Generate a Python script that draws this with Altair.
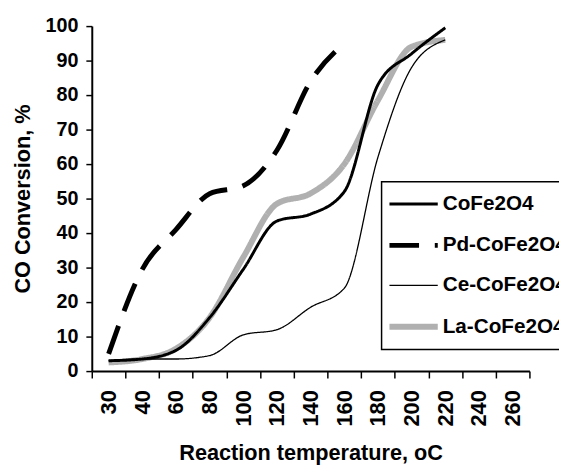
import altair as alt
import pandas as pd

categories = ["30", "40", "60", "80", "100", "120", "140", "160", "180", "200", "220", "240", "260"]
series_names = ["CoFe2O4", "Pd-CoFe2O4", "Ce-CoFe2O4", "La-CoFe2O4"]

cofe = [3, 3.5, 6, 15.5, 29.5, 43.5, 45.5, 52, 83, 92, 99.5]
pd_cofe = [5, 29.5, 41, 51.4, 53.7, 64, 84, 95]
ce_cofe = [3, 3.5, 3.5, 4.5, 10.5, 12, 18.5, 24, 62, 88, 96]
la_cofe = [2.5, 3.5, 6.5, 15.5, 33, 48.5, 51.5, 60, 78.5, 94, 96]

series_values = [cofe, pd_cofe, ce_cofe, la_cofe]
line_colors = ["#000000", "#000000", "#000000", "#b0b0b0"]
line_dashes = [[1, 0], [30, 16], [1, 0], [1, 0]]
line_widths = [3, 5, 1.3, 6]

rows = []
for name, vals in zip(series_names, series_values):
    for c, v in zip(categories, vals):
        rows.append({"T": c, "conv": v, "series": name})
df = pd.DataFrame(rows)

FONT = "Liberation Sans"

x_enc = alt.X(
    "T:N",
    sort=categories,
    bandPosition=0.5,
    scale=alt.Scale(type="band", domain=categories, paddingInner=0, paddingOuter=0),
    axis=alt.Axis(
        title="Reaction temperature, oC",
        labelAngle=-90,
        tickBand="extent",
        tickSize=7,
        tickWidth=1.5,
        tickColor="black",
        domainColor="black",
        domainWidth=2,
        labelPadding=12,
        labelFontSize=22,
        labelFont=FONT,
        labelFontWeight="bold",
        labelColor="black",
        titleFont=FONT,
        titleFontSize=22,
        titleFontWeight="bold",
        titleColor="black",
        titleBaseline="alphabetic",
        titleY=90,
        grid=False,
    ),
)

y_enc = alt.Y(
    "conv:Q",
    scale=alt.Scale(domain=[0, 100], nice=False),
    axis=alt.Axis(
        title="CO Conversion, %",
        values=list(range(0, 101, 10)),
        tickSize=6,
        tickWidth=1.5,
        tickColor="black",
        domainColor="black",
        domainWidth=2,
        labelPadding=8,
        labelFontSize=20,
        labelFont=FONT,
        labelFontWeight="bold",
        labelColor="black",
        titleFont=FONT,
        titleFontSize=22,
        titleFontWeight="bold",
        titleColor="black",
        titleBaseline="alphabetic",
        titleX=-63,
        titleY=175,
        grid=False,
    ),
)

color_enc = alt.Color("series:N", scale=alt.Scale(domain=series_names, range=line_colors), title=None)
dash_enc = alt.StrokeDash("series:N", scale=alt.Scale(domain=series_names, range=line_dashes), title=None)
width_enc = alt.StrokeWidth(
    "series:N", scale=alt.Scale(type="ordinal", domain=series_names, range=line_widths), title=None
)

base = alt.Chart(df).encode(x=x_enc, y=y_enc, color=color_enc, strokeDash=dash_enc, strokeWidth=width_enc)

la_layer = base.transform_filter(alt.datum.series == "La-CoFe2O4").mark_line(interpolate="monotone")
other_layer = base.transform_filter(alt.datum.series != "La-CoFe2O4").mark_line(interpolate="monotone")

chart = (
    alt.layer(la_layer, other_layer)
    .properties(
        width=444,
        height=350,
        autosize=alt.AutoSizeParams(type="none"),
        padding={"left": 85, "top": 15, "right": 30, "bottom": 97},
        background="white",
    )
    .configure_view(stroke=None)
    .configure_legend(
        orient="none",
        legendX=294,
        legendY=158,
        padding=11,
        strokeColor="black",
        strokeWidth=1.5,
        fillColor="white",
        symbolType="M-1.6,0L3.3,0",
        symbolSize=400,
        labelFont=FONT,
        labelFontSize=21,
        labelFontWeight="bold",
        labelColor="black",
        labelOffset=25,
        rowPadding=19,
        labelLimit=400,
    )
)

chart.save("out.html", embed_options={"renderer": "svg", "actions": False})
